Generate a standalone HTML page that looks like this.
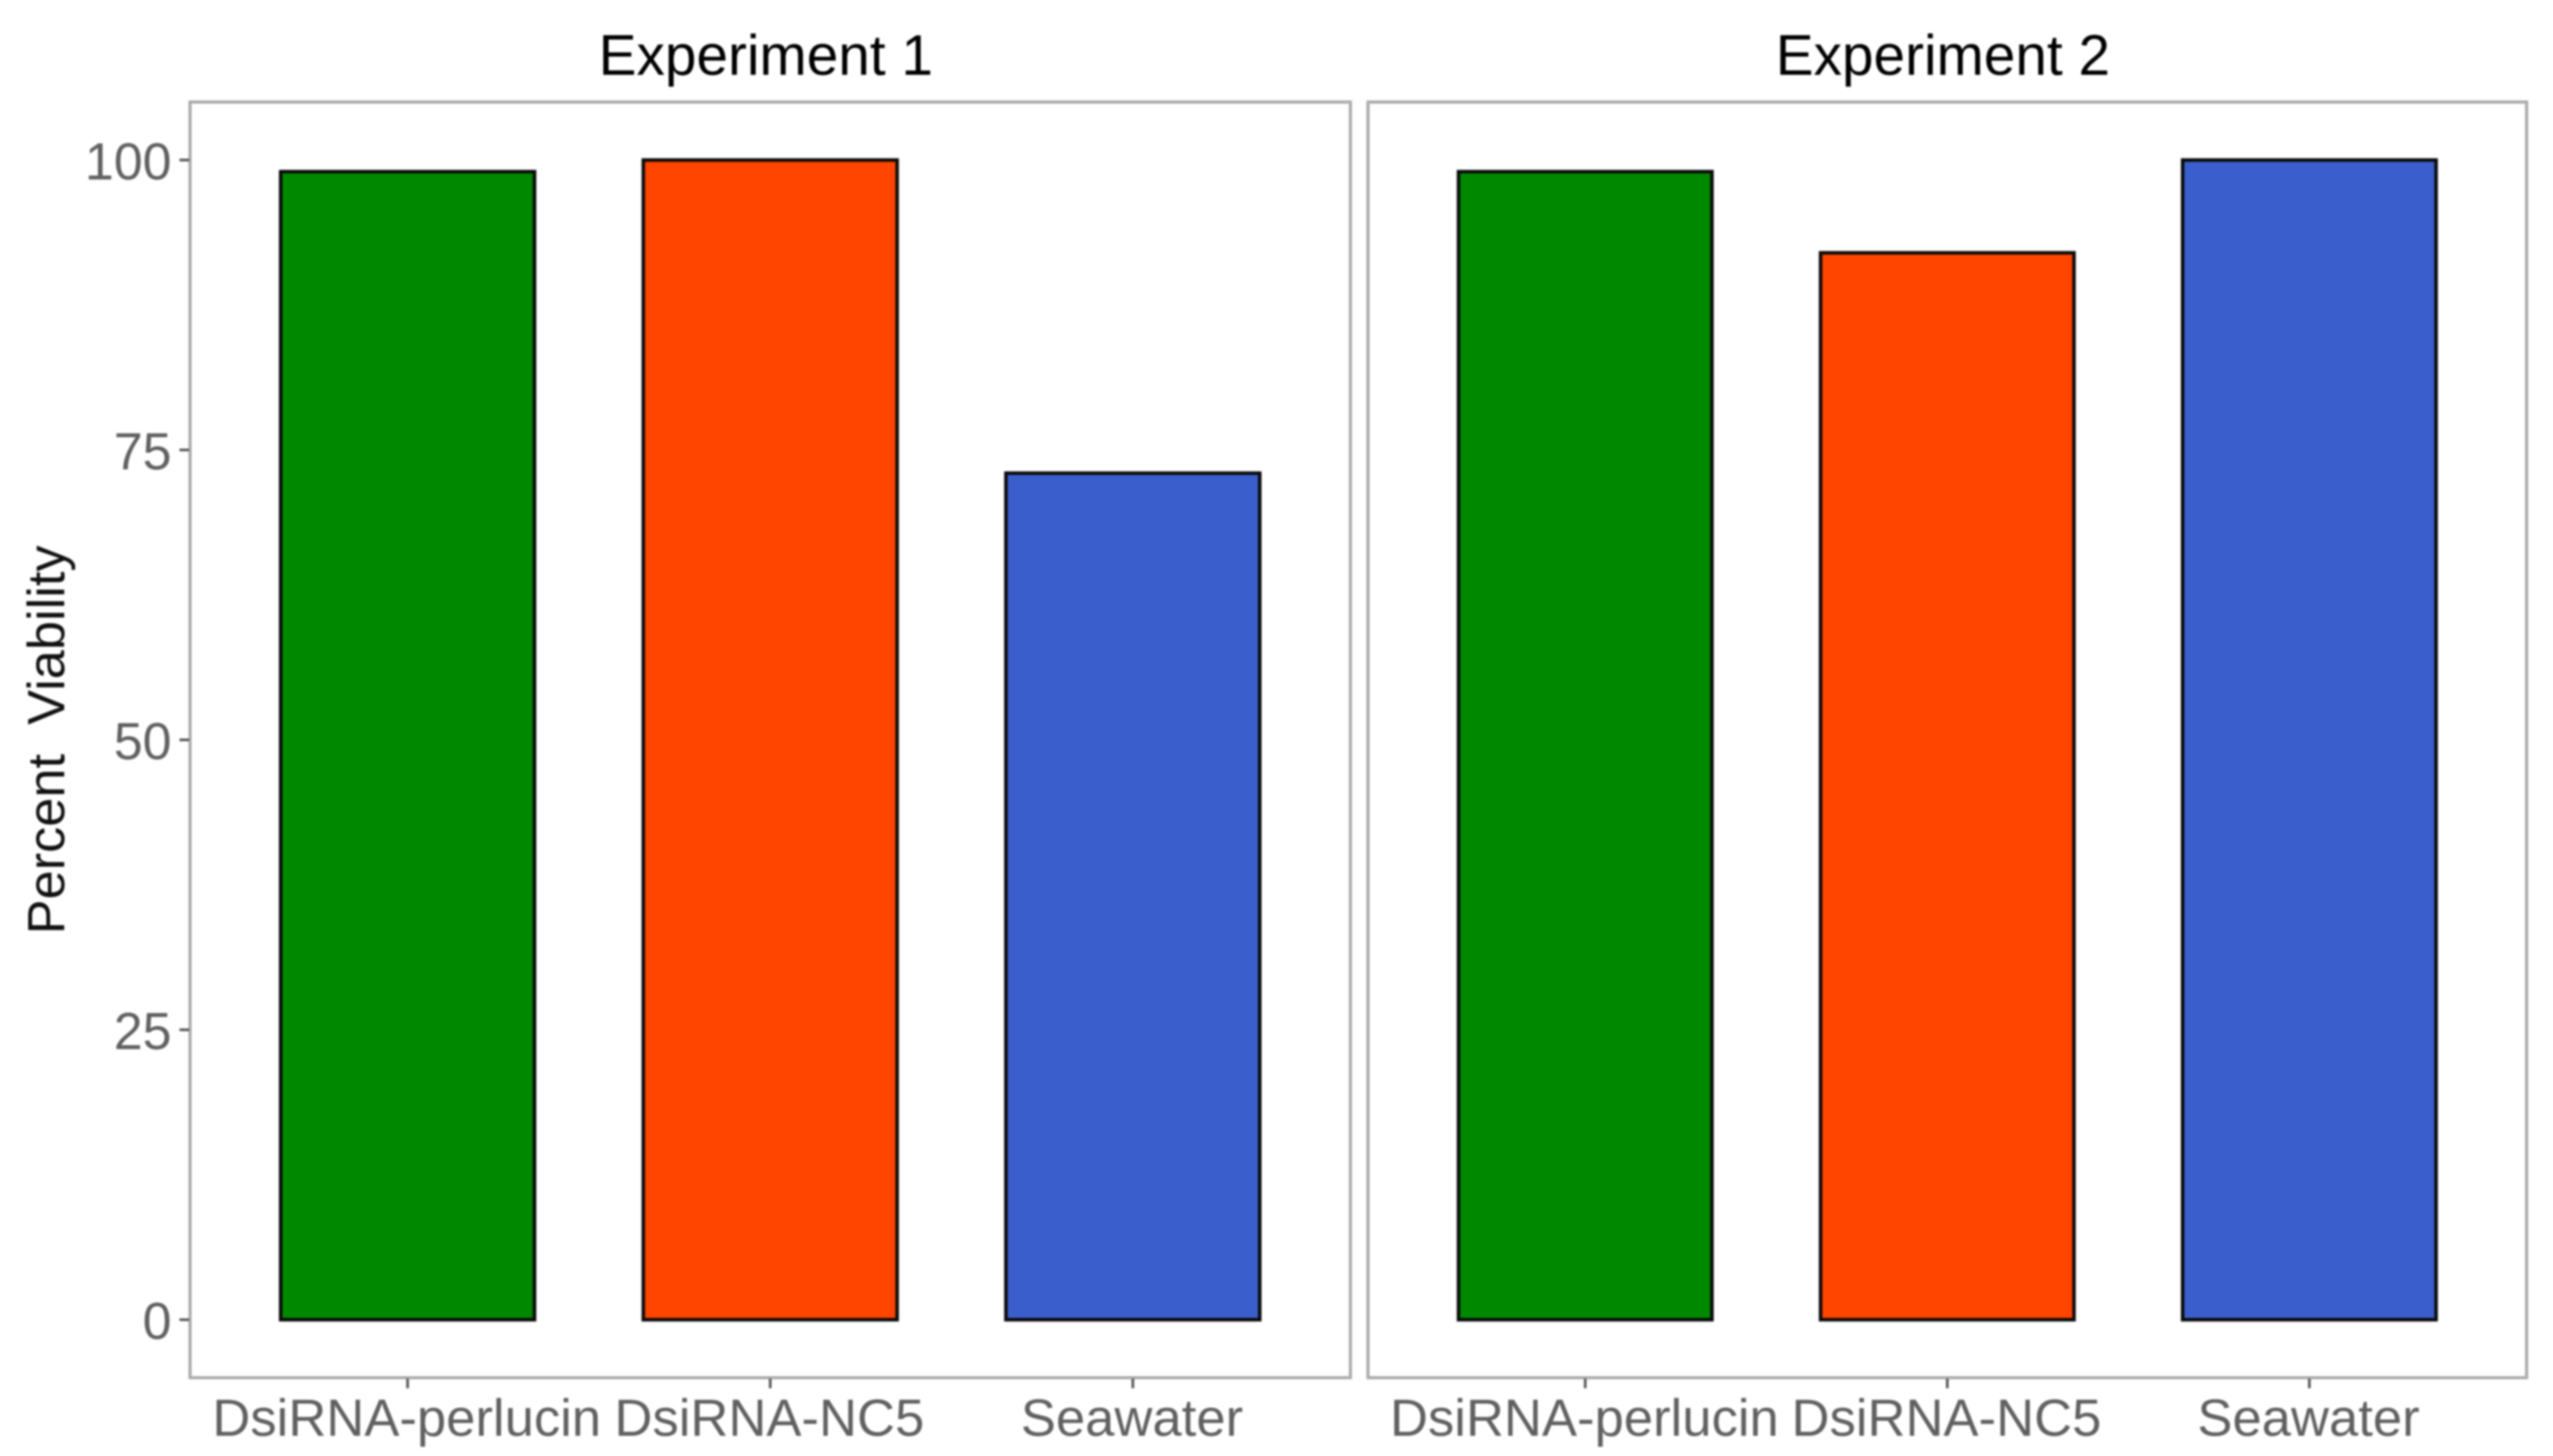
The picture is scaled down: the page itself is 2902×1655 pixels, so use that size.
<!DOCTYPE html>
<html lang="en">
<head>
<meta charset="utf-8">
<title>Percent Viability by Experiment</title>
<style>
  html, body { margin: 0; padding: 0; background: #ffffff; }
  body { width: 2902px; height: 1655px; overflow: hidden; }
  #chart { display: block; filter: blur(1px); font-family: "Liberation Sans", Arial, sans-serif; }
</style>
</head>
<body>
<svg id="chart" xmlns="http://www.w3.org/2000/svg" width="2902" height="1655" viewBox="0 0 2902 1655">
  <rect x="0" y="0" width="2902" height="1655" fill="#ffffff"/>
  <text transform="translate(73 841) rotate(-90)" text-anchor="middle" font-size="59.5" fill="#111111" style="white-space:pre" xml:space="preserve">Percent  Viability</text>
  <g id="panels"></g>
</svg>
<script>
const categories = ["DsiRNA-perlucin", "DsiRNA-NC5", "Seawater"];
const barColors = ["#008800", "#FF4500", "#3A5FCD"];
const facetTitles = ["Experiment 1", "Experiment 2"];
const experiment1Values = [99, 100, 73];
const experiment2Values = [99, 92, 100];
const yTickValues = [0, 25, 50, 75, 100];
const yTickLabels = ["0", "25", "50", "75", "100"];

const SVG_NS = "http://www.w3.org/2000/svg";
const panelsGroup = document.getElementById("panels");
const panelTop = 116;
const panelBottom = 1566;
const yDomain = [-5, 105];
const xExpand = 0.6;
const barWidthUnits = 0.7;

function yScale(v) {
  return panelBottom - (v - yDomain[0]) / (yDomain[1] - yDomain[0]) * (panelBottom - panelTop);
}
function xScale(index, left, right) {
  const unit = (right - left) / (categories.length - 1 + 2 * xExpand);
  return left + (xExpand + index) * unit;
}
function barWidth(left, right) {
  const unit = (right - left) / (categories.length - 1 + 2 * xExpand);
  return unit * barWidthUnits;
}
function make(tag, attrs, parent) {
  const el = document.createElementNS(SVG_NS, tag);
  for (const k in attrs) el.setAttribute(k, attrs[k]);
  parent.appendChild(el);
  return el;
}

function drawPanel(panelIndex, values, left, right, showYAxis) {
  const g = make("g", {}, panelsGroup);
  
  

  const title = make("text", {
    x: (left + right) / 2 - 5, y: 85, "text-anchor": "middle",
    "font-size": 64.5, fill: "#000000"
  }, g);
  title.textContent = facetTitles[panelIndex];
  
  

  const border = make("rect", {
    x: left, y: panelTop, width: right - left, height: panelBottom - panelTop,
    fill: "#ffffff", stroke: "#a9a9a9", "stroke-width": 3.5
  }, g);
  
  

  values.forEach(function (v, i) {
    const cx = xScale(i, left, right);
    const w = barWidth(left, right);
    const bar = make("rect", {
      x: cx - w / 2, y: yScale(v), width: w, height: yScale(0) - yScale(v),
      fill: barColors[i], stroke: "#0a0a0a", "stroke-width": 4
    }, g);
    
    

    const tick = make("line", {
      x1: cx, x2: cx, y1: panelBottom + 1, y2: panelBottom + 12,
      stroke: "#555555", "stroke-width": 3
    }, g);
    
    

    const label = make("text", {
      x: cx - 1, y: 1632, "text-anchor": "middle",
      "font-size": 59.8, fill: "#606060"
    }, g);
    label.textContent = categories[i];
    
    
  });

  if (showYAxis) {
    yTickValues.forEach(function (t, i) {
      const y = yScale(t);
      const tick = make("line", {
        x1: left - 12, x2: left - 1, y1: y, y2: y,
        stroke: "#555555", "stroke-width": 3
      }, g);
      
      

      const label = make("text", {
        x: 195, y: y + 22, "text-anchor": "end",
        "font-size": 59, fill: "#606060"
      }, g);
      label.textContent = yTickLabels[i];
      
      
    });
  }
}

drawPanel(0, experiment1Values, 216, 1535, true);
drawPanel(1, experiment2Values, 1555, 2872, false);
</script>
</body>
</html>
